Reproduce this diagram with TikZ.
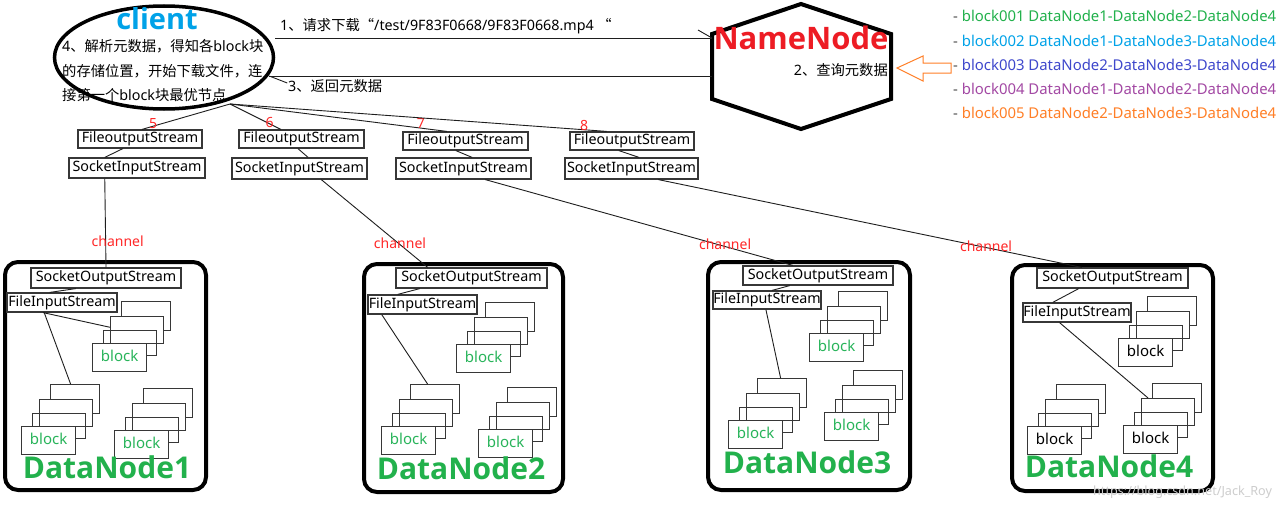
\documentclass[tikz,border=0pt]{standalone}
\usepackage{fontspec}
\setmainfont{Noto Sans}
\newfontfamily\cjk{Noto Sans CJK SC}
\newfontfamily\hd{Open Sans}
\usetikzlibrary{shapes.geometric,calc}
\definecolor{cblue}{RGB}{0,162,232}
\definecolor{nnred}{RGB}{237,28,36}
\definecolor{dngreen}{RGB}{34,177,76}
\definecolor{blkgreen}{RGB}{40,180,90}
\definecolor{cA}{RGB}{34,177,76}
\definecolor{cB}{RGB}{0,162,232}
\definecolor{cC}{RGB}{63,72,204}
\definecolor{cD}{RGB}{163,73,164}
\definecolor{cE}{RGB}{255,127,39}
\definecolor{boxc}{RGB}{55,55,55}
\definecolor{linec}{RGB}{30,30,30}
\definecolor{dashc}{RGB}{80,80,80}
\definecolor{numred}{RGB}{255,40,40}
\definecolor{wm}{RGB}{205,205,205}
\tikzset{
  txt/.style={inner sep=0pt, text height=0.9em, text depth=0.15em},
  body/.style={txt, font=\fontsize{14.3}{17}\selectfont},
  sbox/.style 2 args={body, draw=boxc, line width=1.2pt, fill=white, minimum width=#1, minimum height=#2},
  ln/.style={draw=linec, line width=0.9pt},
  num/.style={txt, font=\fontsize{14}{16}\selectfont, text=numred},
  chan/.style={txt, font=\fontsize{14}{16}\selectfont, text=numred},
  dnbox/.style={draw=black, line width=4pt, rounded corners=13pt, fill=white, inner sep=0pt},
  dnlbl/.style={txt, font=\hd\bfseries\fontsize{30}{33}\selectfont, text=dngreen},
  lst/.style={txt, anchor=west, font=\fontsize{14.9}{17}\selectfont},
  stk/.style={draw=boxc, line width=1.2pt, fill=white, inner sep=0pt, anchor=north west, text height=0.9em, text depth=0.15em},
  pics/stack/.style={code={
    \node[stk, minimum width=49pt, minimum height=29pt] (-r1) at (29,-42) {};
    \node[stk, minimum width=53pt, minimum height=27pt] (-r2) at (18,-27) {};
    \node[stk, minimum width=53pt, minimum height=25pt, fill=none] (-r3) at (11,-13) {};
    \node[stk, minimum width=54pt, minimum height=28pt, text=#1, font=\fontsize{15}{17}\selectfont] (-r4) at (0,0) {block};
  }}
}
\begin{document}
\begin{tikzpicture}[x=1pt,y=-1pt]
\fill[white] (0,0) rectangle (1280,506);
\useasboundingbox (0,0) rectangle (1280,506);

% ---------- client ----------
\node[ellipse, draw=black, line width=3.5pt, minimum width=219pt, minimum height=103pt, inner sep=0pt] (client) at (164,57.5) {};
\node[txt, font=\hd\bfseries\fontsize{29}{32}\selectfont, text=cblue] (clientlbl) at (157,25.5) {client};
\node[body, anchor=west] (ct1) at (62,48) {4{\cjk 、解析元数据，得知各}block{\cjk 块}};
\node[body, anchor=west] (ct2) at (62,72.5) {{\cjk 的存储位置，开始下载文件，连}};
\node[body, anchor=west] (ct3) at (62,97) {{\cjk 接第一个}block{\cjk 块最优节点}};

% ---------- NameNode ----------
\coordinate (nnT) at (801,4);
\coordinate (nnUR) at (891,34);
\coordinate (nnLR) at (891,99);
\coordinate (nnB) at (801,129);
\coordinate (nnLL) at (712,99);
\coordinate (nnUL) at (712,34);
\draw[line width=4pt, line join=miter] (nnT) -- (nnUR) -- (nnLR) -- (nnB) -- (nnLL) -- (nnUL) -- cycle;
\node[txt, font=\hd\bfseries\fontsize{31}{34}\selectfont, text=nnred] (nn) at (801,46) {NameNode};
\node[body, anchor=east] (q2) at (888,72) {2{\cjk 、查询元数据}};

% orange hollow arrow
\draw[cE, line width=1pt, fill=white] (897,68) -- (923,56) -- (923,63) -- (951,63) -- (951,73) -- (923,73) -- (923,81) -- cycle;

% block list
\node[lst] (bl1) at (953,18) {\textcolor{dashc}{-} \textcolor{cA}{block001 DataNode1-DataNode2-DataNode4}};
\node[lst] (bl2) at (953,42.5) {\textcolor{dashc}{-} \textcolor{cB}{block002 DataNode1-DataNode3-DataNode4}};
\node[lst] (bl3) at (953,67) {\textcolor{dashc}{-} \textcolor{cC}{block003 DataNode2-DataNode3-DataNode4}};
\node[lst] (bl4) at (953,91) {\textcolor{dashc}{-} \textcolor{cD}{block004 DataNode1-DataNode2-DataNode4}};
\node[lst] (bl5) at (953,115) {\textcolor{dashc}{-} \textcolor{cE}{block005 DataNode2-DataNode3-DataNode4}};

% ---------- client <-> NameNode ----------
\coordinate (rqA) at ([yshift=19.5pt]client.east);
\coordinate (rqB) at (rqA -| nnUL);
\draw[ln] (rqA) -- (rqB);
\draw[ln] (rqB) -- ++(-14,-8);
\node[body, anchor=west] (l1) at (280,27) {1{\cjk 、请求下载“}/test/9F83F0668/9F83F0668.mp4 {\cjk “}};
\coordinate (rtA) at ([xshift=-6pt,yshift=-18.5pt]client.east);
\coordinate (rtB) at (rtA -| nnLL);
\draw[ln] (rtB) -- (rtA);
\draw[ln] (rtA) -- ++(18,7);
\node[body, anchor=west] (l3) at (288,88) {3{\cjk 、返回元数据}};

% ---------- stream boxes ----------
\node[sbox={124pt}{18pt}] (f1) at (140,139) {FileoutputStream};
\node[sbox={136pt}{20pt}] (s1) at (137,168) {SocketInputStream};
\node[sbox={125pt}{18pt}] (f2) at (301.5,139) {FileoutputStream};
\node[sbox={135pt}{21pt}] (s2) at (299.5,168.5) {SocketInputStream};
\node[sbox={125pt}{18pt}] (f3) at (465.5,141) {FileoutputStream};
\node[sbox={135pt}{21pt}] (s3) at (463.5,168.5) {SocketInputStream};
\node[sbox={124pt}{18pt}] (f4) at (632,141) {FileoutputStream};
\node[sbox={133pt}{21pt}] (s4) at (631.5,168.5) {SocketInputStream};

\coordinate (fan) at (230,104);
\draw[ln] (fan) -- node[num, pos=0.875, yshift=1.5pt] (n5) {5} ($(f1.north west)!0.516!(f1.north east)$);
\draw[ln] (fan) -- node[num, pos=0.78] (n6) {6} ($(f2.north west)!0.336!(f2.north east)$);
\draw[ln] (fan) -- node[num, pos=0.88, yshift=3.5pt] (n7) {7} ($(f3.north west)!0.352!(f3.north east)$);
\draw[ln] (fan) -- node[num, pos=0.94, yshift=3pt] (n8) {8} ($(f4.north west)!0.298!(f4.north east)$);

\draw[ln] ($(f1.south west)!0.363!(f1.south east)$) -- ($(s1.north west)!0.265!(s1.north east)$);
\draw[ln] ($(f2.south west)!0.472!(f2.south east)$) -- ($(s2.north west)!0.563!(s2.north east)$);
\draw[ln] ($(f3.south west)!0.424!(f3.south east)$) -- ($(s3.north west)!0.563!(s3.north east)$);
\draw[ln] ($(f4.south west)!0.395!(f4.south east)$) -- ($(s4.north west)!0.556!(s4.north east)$);

% ---------- DataNodes ----------
\node[dnbox, minimum width=201pt, minimum height=228pt] (dn1) at (105.5,376) {};
\node[dnbox, minimum width=199pt, minimum height=228pt] (dn2) at (463.5,378) {};
\node[dnbox, minimum width=202pt, minimum height=228pt] (dn3) at (809,376) {};
\node[dnbox, minimum width=201pt, minimum height=226pt] (dn4) at (1112.5,378) {};

\pic (d1a) at (92,343) {stack=blkgreen};
\pic (d1b) at (21,426) {stack=blkgreen};
\pic (d1c) at (114,430) {stack=blkgreen};
\pic (d2a) at (456,344) {stack=blkgreen};
\pic (d2b) at (381,426) {stack=blkgreen};
\pic (d2c) at (478,429) {stack=blkgreen};
\pic (d3a) at (809,333) {stack=blkgreen};
\pic (d3b) at (728,420) {stack=blkgreen};
\pic (d3c) at (824,412) {stack=blkgreen};
\pic (d4a) at (1118,338) {stack=black};
\pic (d4b) at (1027,426) {stack=black};
\pic (d4c) at (1123,425) {stack=black};

\node[sbox={150pt}{20pt}] (dn1sos) at (106,278) {SocketOutputStream};
\node[sbox={110pt}{19pt}] (dn1fis) at (62,302.5) {FileInputStream};
\node[sbox={151pt}{20pt}] (dn2sos) at (471.5,278) {SocketOutputStream};
\node[sbox={109pt}{19pt}] (dn2fis) at (422.5,304.5) {FileInputStream};
\node[sbox={150pt}{19pt}] (dn3sos) at (818,275.5) {SocketOutputStream};
\node[sbox={108pt}{18pt}] (dn3fis) at (767,300) {FileInputStream};
\node[sbox={151pt}{20pt}] (dn4sos) at (1112.5,278) {SocketOutputStream};
\node[sbox={108pt}{19pt}] (dn4fis) at (1077,312.5) {FileInputStream};

\draw[ln] ($(dn1sos.south west)!0.3!(dn1sos.south east)$) -- ($(dn1fis.north west)!0.39!(dn1fis.north east)$);
\draw[ln] ($(dn2sos.south west)!0.16!(dn2sos.south east)$) -- ($(dn2fis.north west)!0.275!(dn2fis.north east)$);
\draw[ln] ($(dn3sos.south west)!0.313!(dn3sos.south east)$) -- ($(dn3fis.north west)!0.546!(dn3fis.north east)$);
\draw[ln] ($(dn4sos.south west)!0.278!(dn4sos.south east)$) -- ($(dn4fis.north west)!0.278!(dn4fis.north east)$);

\draw[ln] ($(dn1fis.south west)!0.33!(dn1fis.south east)$) -- ($(d1a-r2.north west)!0.4!(d1a-r2.south west)$);
\draw[ln] ($(dn1fis.south west)!0.34!(dn1fis.south east)$) -- ($(d1b-r1.north west)!0.41!(d1b-r1.north east)$);
\draw[ln] ($(dn2fis.south west)!0.13!(dn2fis.south east)$) -- ($(d2b-r1.north west)!0.35!(d2b-r1.north east)$);
\draw[ln] ($(dn3fis.south west)!0.49!(dn3fis.south east)$) -- ($(d3b-r1.north west)!0.47!(d3b-r1.north east)$);
\draw[ln] ($(dn4fis.south west)!0.34!(dn4fis.south east)$) -- ($(d4c-r2.north west)!0.13!(d4c-r2.north east)$);

% channels
\draw[ln] ($(s1.south west)!0.265!(s1.south east)$) -- node[chan, pos=0.72, xshift=12pt] (ch1) {channel} (dn1sos.north);
\draw[ln] ($(s2.south west)!0.66!(s2.south east)$) -- node[chan, pos=0.74] (ch2) {channel} ($(dn2sos.north west)!0.212!(dn2sos.north east)$);
\draw[ln] ($(s3.south west)!0.66!(s3.south east)$) -- node[chan, pos=0.78, yshift=1pt] (ch3) {channel} ($(dn3sos.north west)!0.333!(dn3sos.north east)$);
\draw[ln] ($(s4.south west)!0.70!(s4.south east)$) -- node[chan, pos=0.774] (ch4) {channel} ($(dn4sos.north west)!0.298!(dn4sos.north east)$);

\node[dnlbl] (dn1l) at (107,474.5) {DataNode1};
\node[dnlbl] (dn2l) at (461,476) {DataNode2};
\node[dnlbl] (dn3l) at (807,470) {DataNode3};
\node[dnlbl] (dn4l) at (1109,474) {DataNode4};

\node[txt, anchor=west, font=\fontsize{12.6}{14}\selectfont, text=wm] (wmk) at (1093,491.5) {https://blog.csdn.net/Jack\_Roy};
\end{tikzpicture}
\end{document}
